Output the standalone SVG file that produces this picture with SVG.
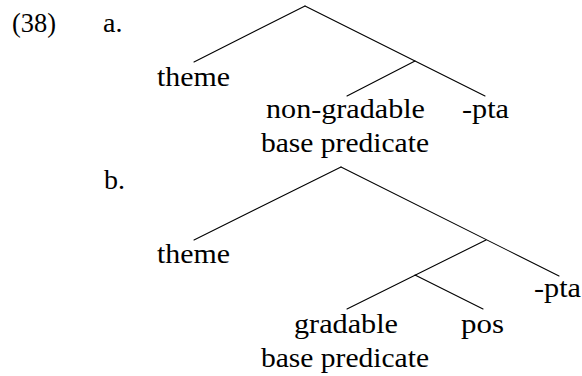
<svg xmlns="http://www.w3.org/2000/svg" width="582" height="376" viewBox="0 0 582 376">
<style>
text { font-family: "Liberation Serif", "Times New Roman", serif; font-size: 28px; fill: #000; }
.edge { stroke: #000; stroke-width: 1.1; fill: none; stroke-linecap: round; }
</style>
<rect width="582" height="376" fill="#fff"/>
<g id="labels">
  <text x="12" y="32" textLength="44" lengthAdjust="spacingAndGlyphs">(38)</text>
  <text x="103" y="32">a.</text>
  <text x="104" y="189">b.</text>
</g>
<g id="connectors">
  <line class="edge" x1="305" y1="6" x2="194" y2="62"/>
  <line class="edge" x1="305" y1="6" x2="485" y2="96"/>
  <line class="edge" x1="415" y1="61" x2="347" y2="96"/>
  <line class="edge" x1="341" y1="167" x2="194" y2="240"/>
  <line class="edge" x1="341" y1="167" x2="559" y2="276"/>
  <line class="edge" x1="486" y1="240" x2="347" y2="309"/>
  <line class="edge" x1="415" y1="275" x2="483" y2="309"/>
</g>
<g id="a-theme"><text x="157" y="86" textLength="73" lengthAdjust="spacingAndGlyphs">theme</text></g>
<g id="a-nongradable">
  <text x="266" y="118" textLength="159" lengthAdjust="spacingAndGlyphs">non-gradable</text>
  <text x="261" y="152" textLength="168" lengthAdjust="spacingAndGlyphs">base predicate</text>
</g>
<g id="a-pta"><text x="462" y="118" textLength="47" lengthAdjust="spacingAndGlyphs">-pta</text></g>
<g id="b-theme"><text x="157" y="263" textLength="73" lengthAdjust="spacingAndGlyphs">theme</text></g>
<g id="b-gradable">
  <text x="294" y="333" textLength="104" lengthAdjust="spacingAndGlyphs">gradable</text>
  <text x="261" y="367" textLength="168" lengthAdjust="spacingAndGlyphs">base predicate</text>
</g>
<g id="b-pos"><text x="461" y="333" textLength="43" lengthAdjust="spacingAndGlyphs">pos</text></g>
<g id="b-pta"><text x="534" y="297" textLength="47" lengthAdjust="spacingAndGlyphs">-pta</text></g>
</svg>
